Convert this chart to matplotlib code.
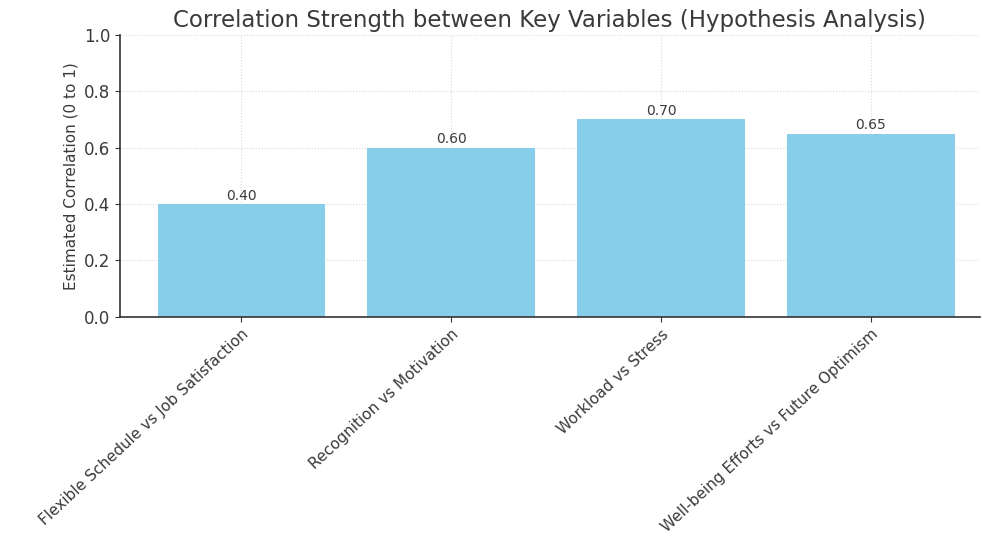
import matplotlib
matplotlib.use("Agg")
import matplotlib.pyplot as plt

categories = [
    "Flexible Schedule vs Job Satisfaction",
    "Recognition vs Motivation",
    "Workload vs Stress",
    "Well-being Efforts vs Future Optimism",
]
correlations = [0.40, 0.60, 0.70, 0.65]
y_ticks = [0.0, 0.2, 0.4, 0.6, 0.8, 1.0]

text_color = "#3a3a3a"

fig = plt.figure(figsize=(9.82, 5.36), dpi=100)
ax = fig.add_axes([0.122, 0.409, 0.876, 0.526])

x = range(len(categories))
bars = ax.bar(x, correlations, width=0.8, color="skyblue", zorder=2)

for rect, val in zip(bars, correlations):
    ax.text(rect.get_x() + rect.get_width() / 2, val + 0.005, f"{val:.2f}",
            ha="center", va="bottom", fontsize=10, color=text_color)

ax.set_xlim(-0.58, 3.52)
ax.set_ylim(0, 1.0)
ax.set_yticks(y_ticks)
ax.set_yticklabels([f"{t:.1f}" for t in y_ticks], fontsize=12, color=text_color)
ax.set_xticks(list(x))
ax.set_xticklabels(categories, rotation=43, ha="right", rotation_mode="anchor",
                   fontsize=11, color=text_color)
ax.set_ylabel("Estimated Correlation (0 to 1)", fontsize=11, color=text_color)
ax.set_title("Correlation Strength between Key Variables (Hypothesis Analysis)",
             fontsize=16.5, color=text_color, pad=6)

ax.grid(True, color="#d8d8d8", linestyle=":", linewidth=0.8, zorder=0)
ax.set_axisbelow(True)
for side in ("top", "right"):
    ax.spines[side].set_visible(False)
for side in ("left", "bottom"):
    ax.spines[side].set_color("#333333")
    ax.spines[side].set_linewidth(1.2)
ax.tick_params(colors="#333333", labelcolor=text_color)

fig.savefig("out.png", dpi=100)
